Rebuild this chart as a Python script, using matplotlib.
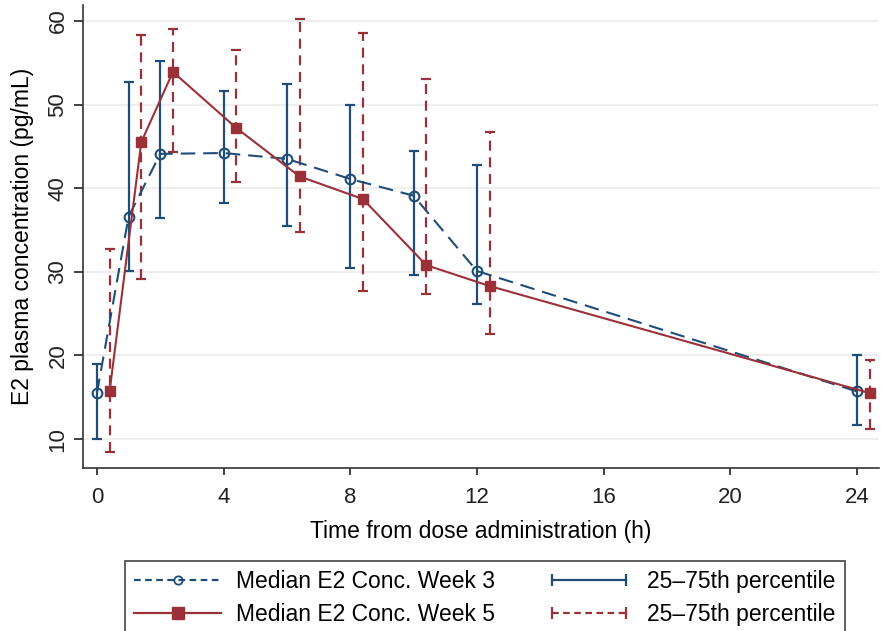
import matplotlib
matplotlib.use("Agg")
from matplotlib import pyplot as plt
from matplotlib.lines import Line2D
from matplotlib.legend_handler import HandlerLine2D

plt.rcParams['font.family'] = ['Liberation Sans', 'DejaVu Sans']

# Week 3 (circles) and week 5 (squares, shifted +0.4 h for readability)
hours_w3 = [0, 1, 2, 4, 6, 8, 10, 12, 24]
median_w3 = [15.5, 36.6, 44.1, 44.2, 43.5, 41.1, 39.1, 30.1, 15.7]
p25_w3 = [10.0, 30.1, 36.4, 38.2, 35.5, 30.4, 29.6, 26.1, 11.7]
p75_w3 = [19.0, 52.7, 55.2, 51.6, 52.5, 50.0, 44.4, 42.8, 20.1]

hours_w5 = [0.4, 1.4, 2.4, 4.4, 6.4, 8.4, 10.4, 12.4, 24.4]
median_w5 = [15.7, 45.5, 53.9, 47.2, 41.4, 38.7, 30.8, 28.3, 15.5]
p25_w5 = [8.4, 29.1, 44.3, 40.7, 34.7, 27.7, 27.3, 22.6, 11.2]
p75_w5 = [32.7, 58.3, 59.0, 56.5, 60.2, 58.5, 53.0, 46.7, 19.4]

xticks = [0, 4, 8, 12, 16, 20, 24]
yticks = [10, 20, 30, 40, 50, 60]

blue = '#1f4d78'
red = '#9a3139'

fig = plt.figure(figsize=(8.81, 6.31), dpi=100)
# plot area: x 83..879 px, y 5..468 px
ax = fig.add_axes([83 / 881, 1 - 468 / 631, 796 / 881, 463 / 631])

# error bars (25-75th percentile)
err_w3 = [[m - lo for m, lo in zip(median_w3, p25_w3)],
          [hi - m for m, hi in zip(median_w3, p75_w3)]]
err_w5 = [[m - lo for m, lo in zip(median_w5, p25_w5)],
          [hi - m for m, hi in zip(median_w5, p75_w5)]]

eb3 = ax.errorbar(hours_w3, median_w3, yerr=err_w3, fmt='none', ecolor=blue,
                  elinewidth=1.6, capsize=3.4, capthick=1.6, zorder=2)
eb5 = ax.errorbar(hours_w5, median_w5, yerr=err_w5, fmt='none', ecolor=red,
                  elinewidth=1.6, capsize=3.4, capthick=1.6, zorder=2)
eb5[2][0].set_linestyle((0, (4.5, 3)))

ax.plot(hours_w3, median_w3, color=blue, linestyle=(0, (7, 3.8)), lw=1.5,
        marker='o', markersize=7, markerfacecolor='none', markeredgewidth=1.5,
        zorder=3, clip_on=False)
ax.plot(hours_w5, median_w5, color=red, linestyle='-', lw=1.5,
        marker='s', markersize=7.5, markerfacecolor=red, markeredgecolor=red,
        zorder=3, clip_on=False)

ax.set_xlim(-0.44, 24.7)
ax.set_ylim(6.54, 61.9)
ax.set_xticks(xticks)
ax.set_yticks(yticks)
ax.tick_params(axis='both', labelsize=16, direction='out', width=1.2,
               colors='#222222')
ax.tick_params(axis='x', length=5, pad=9)
ax.tick_params(axis='y', length=6.5, pad=4)
for lab in ax.get_yticklabels():
    lab.set_rotation(90)
    lab.set_va('center')
ax.grid(axis='y', color='#ebebeb', lw=1.2)
ax.set_axisbelow(True)
for s in ['top', 'right']:
    ax.spines[s].set_visible(False)
for s in ['left', 'bottom']:
    ax.spines[s].set_color('#333333')
    ax.spines[s].set_linewidth(1.2)

ax.set_xlabel("Time from dose administration (h)", fontsize=16.5, labelpad=8)
ax.set_ylabel("E2 plasma concentration (pg/mL)", fontsize=16.5, labelpad=10)

h_w3 = Line2D([], [], color=blue, linestyle=(0, (3, 2)), lw=1.6, marker='o',
              markersize=6, markerfacecolor='none', markeredgewidth=1.3)
h_w5 = Line2D([], [], color=red, linestyle='-', lw=1.6, marker='s',
              markersize=8, markerfacecolor=red)
h_e3 = Line2D([], [], color=blue, linestyle='-', lw=1.6, marker='|',
              markersize=8, markeredgewidth=1.6)
h_e5 = Line2D([], [], color=red, linestyle=(0, (3, 2)), lw=1.6, marker='|',
              markersize=8, markeredgewidth=1.6)

leg = fig.legend([h_w3, h_w5, h_e3, h_e5],
                 ["Median E2 Conc. Week 3", "Median E2 Conc. Week 5",
                  "25\u201375th percentile", "25\u201375th percentile"],
                 ncol=2, loc='lower center', bbox_to_anchor=(0.5505, -0.006),
                 borderaxespad=0, fontsize=16.5, handlelength=3.8,
                 columnspacing=2.2, handletextpad=0.65, borderpad=0.4,
                 labelspacing=0.42, fancybox=False, edgecolor='#444444',
                 framealpha=1,
                 handler_map={h_e3: HandlerLine2D(numpoints=2),
                              h_e5: HandlerLine2D(numpoints=2)})
leg.get_frame().set_linewidth(1.2)

fig.savefig("out.png", dpi=100)
